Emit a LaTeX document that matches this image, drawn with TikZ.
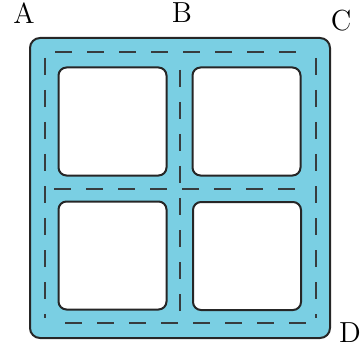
\documentclass[tikz,border=0pt]{standalone}
\usepackage{tikz}
\usetikzlibrary{positioning}
\definecolor{paneblue}{RGB}{122,207,227}
\definecolor{seamgray}{RGB}{55,60,62}
\tikzset{
    frame/.style={rectangle, draw=black!85, line width=1pt, fill=paneblue, rounded corners=5pt, minimum size=150pt, inner sep=0pt},
    pane/.style={rectangle, draw=black!85, line width=1pt, fill=white, rounded corners=4pt, minimum size=54pt, inner sep=0pt},
    seam/.style={draw=seamgray, line width=0.6pt, dash pattern=on 8.5pt off 7.5pt},
    corner label/.style={font=\fontsize{14.5}{17}\selectfont, inner sep=0pt}
}
\begin{document}
\begin{tikzpicture}[x=0.5pt, y=-0.5pt]
% Window frame with four panes, measured in pixels of the sketch.
  \useasboundingbox (0,0) rectangle (363,352);
  \node[frame] (frame) at (180,188) {};
  \node[pane] (p11) at (112.5,121.5) {};
  \node[pane] (p12) at (246.5,121.5) {};
  \node[pane] (p21) at (112.5,255.5) {};
  \node[pane] (p22) at (247,256) {};
  \draw[seam] (55,52) -- (310,52);
  \draw[seam] (45,58) -- (45,318);
  \draw[seam] (316,58) -- (316,318);
  \draw[seam] (65,323) -- (310,323);
  \draw[seam] (54,189) -- (310,189);
  \draw[seam] (180,70) -- (180,318);
  \node[corner label] (A) at (24,13) {A};
  \node[corner label] (B) at (182,13) {B};
  \node[corner label] (C) at (341,21) {C};
  \node[corner label] (D) at (350,333) {D};
\end{tikzpicture}
\end{document}
